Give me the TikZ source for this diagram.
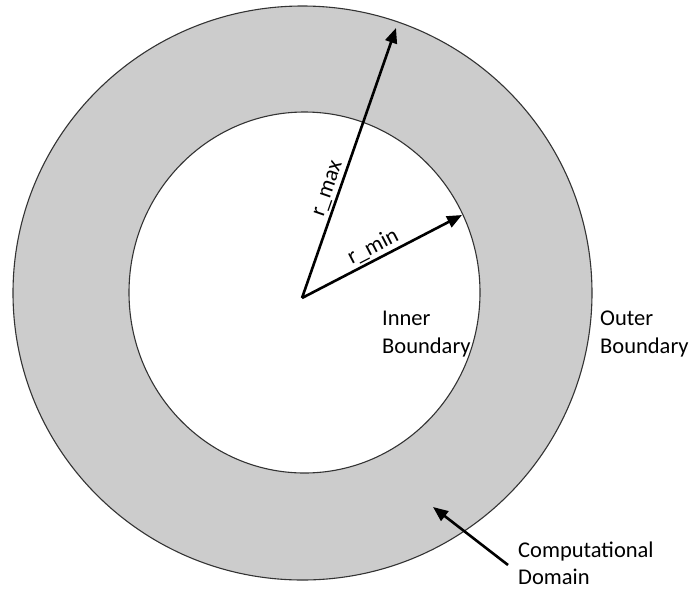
\documentclass[tikz,border=0pt]{standalone}
\usepackage{fontspec}
\setmainfont{Carlito}
\usetikzlibrary{arrows.meta}
\definecolor{domaingray}{HTML}{CCCCCC}
\definecolor{edgegray}{HTML}{333333}
\begin{document}
\begin{tikzpicture}[x=1pt,y=-1pt,
  ring/.style={draw=edgegray,line width=1.1pt},
  radius arrow/.style={line width=2.6pt,-{Triangle[length=15pt,width=12pt]}},
  lbl/.style={font=\fontsize{22.5}{27.5}\selectfont,inner sep=0pt,anchor=base west},
  rlbl/.style={font=\fontsize{22.5}{27.5}\selectfont,inner sep=2pt}]
\useasboundingbox (0,0) rectangle (694,590);
\fill[white] (0,0) rectangle (694,590);
\draw[ring,fill=domaingray] (302.5,293) ellipse [x radius=289.5, y radius=287];
\draw[ring,fill=white] (304.5,292.5) ellipse [x radius=175.5, y radius=180.5];
\coordinate (O) at (302,298);
\coordinate (rmaxtip) at (396,28);
\coordinate (rmintip) at (462,215);
\coordinate (cdtail) at (508,565);
\coordinate (cdtip) at (433,507);
\draw[radius arrow] (O) -- node[rlbl,pos=0.39,above,sloped] (rmaxlbl) {r\_max} (rmaxtip);
\draw[radius arrow] (O) -- node[rlbl,pos=0.48,above,sloped] (rminlbl) {r\_min} (rmintip);
\draw[radius arrow] (cdtail) -- (cdtip);
\node[lbl] (inner1) at (382,325) {Inner};
\node[lbl] (inner2) at (382,353) {Boundary};
\node[lbl] (outer1) at (600,325) {Outer};
\node[lbl] (outer2) at (600,353) {Boundary};
\node[lbl] (cd1) at (518,557) {Computational};
\node[lbl] (cd2) at (518,584) {Domain};
\end{tikzpicture}
\end{document}
